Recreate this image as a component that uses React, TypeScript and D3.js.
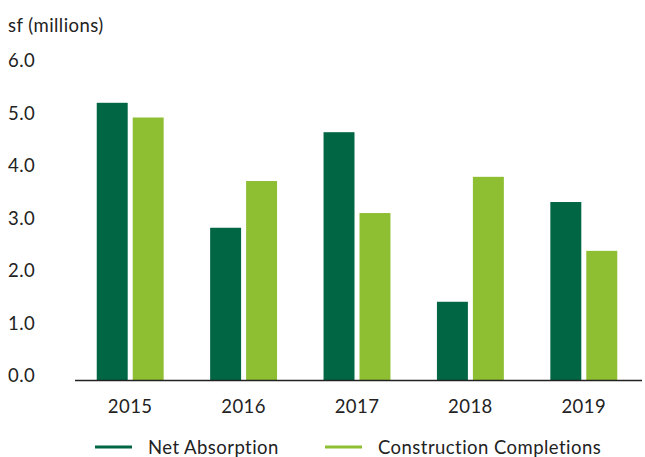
import React from "react";
import * as d3 from "d3";

const years = ["2015", "2016", "2017", "2018", "2019"];
const netAbsorption = [5.28, 2.9, 4.72, 1.49, 3.39];
const constructionCompletions = [5.0, 3.79, 3.18, 3.87, 2.46];
const yTicks = [0, 1, 2, 3, 4, 5, 6];
const seriesNames = ["Net Absorption", "Construction Completions"];
const colors = ["#006643", "#8ebe31"];

export default function App() {
  const W = 645, H = 457;
  const x = d3.scaleBand<string>().domain(years).range([73.5, 640.5]).paddingInner(0.41).paddingOuter(0.205);
  const y = d3.scaleLinear().domain([0, 6]).range([380, 65]);
  const gap = 5;
  const bw = (x.bandwidth() - gap) / 2;
  const font = "Lato, 'Open Sans', sans-serif";
  const series = [netAbsorption, constructionCompletions];
  const legendX = [95, 325];
  const fs = 18.5;
  const ls = 0.45;
  return (
    <svg width={W} height={H} style={{ position: "absolute", left: 0, top: 0, background: "#fff" }} fontFamily={font} letterSpacing={ls}>
      <text x={8} y={32} fontSize={fs} fill="#222">sf (millions)</text>
      {yTicks.map((t) => (
        <text key={t} x={8} y={y(t) + 2} fontSize={fs} fill="#222">{t.toFixed(1)}</text>
      ))}
      {years.map((yr, i) => (
        <g key={yr}>
          {series.map((s, j) => (
            <rect key={j} x={(x(yr) as number) + j * (bw + gap)} y={y(s[i])} width={bw} height={y(0) - y(s[i])} fill={colors[j]} />
          ))}
          <text x={(x(yr) as number) + x.bandwidth() / 2} y={413} fontSize={fs} fill="#222" textAnchor="middle">{yr}</text>
        </g>
      ))}
      <line x1={75} x2={642} y1={380.5} y2={380.5} stroke="#222" strokeWidth={1.3} />
      {seriesNames.map((n, j) => (
        <g key={n}>
          <line x1={legendX[j]} x2={legendX[j] + 37} y1={447} y2={447} stroke={colors[j]} strokeWidth={3} />
          <text x={legendX[j] + 53} y={454} fontSize={fs} fill="#222">{n}</text>
        </g>
      ))}
    </svg>
  );
}
